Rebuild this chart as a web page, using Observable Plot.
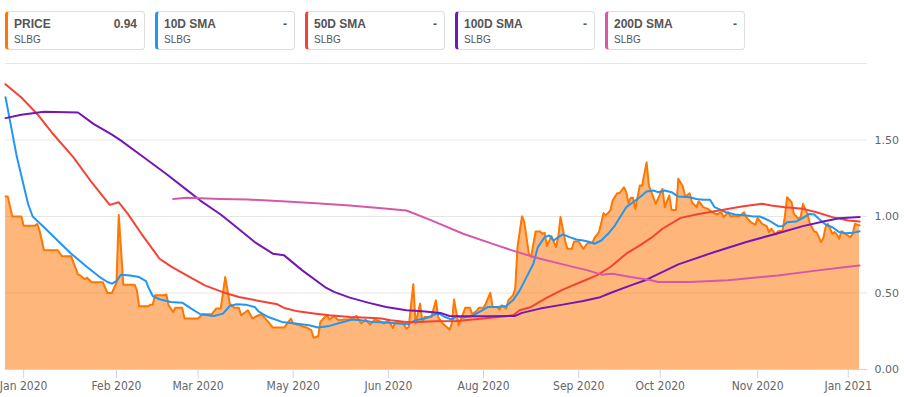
<!DOCTYPE html>
<html>
<head>
<meta charset="utf-8">
<script src="https://cdn.jsdelivr.net/npm/d3@7"></script>
<script src="https://cdn.jsdelivr.net/npm/@observablehq/plot@0.6"></script>
<style>
  body { margin: 0; background: #fff; font-family: "Liberation Sans", Arial, sans-serif; }
  #legend { position: relative; width: 904px; height: 56px; }
  .item { position: absolute; top: 11px; width: 140px; height: 39px; box-sizing: border-box;
          border: 1px solid #dedede; border-left: 3px solid; border-radius: 4px; background: #fff; }
  .item .name { position: absolute; left: 6px; top: 5px; font-size: 12px; font-weight: bold; color: #555; line-height: 14px; }
  .item .val { position: absolute; right: 7px; top: 5px; font-size: 12px; font-weight: bold; color: #555; line-height: 14px; }
  .item .sym { position: absolute; left: 6px; top: 22px; font-size: 10px; color: #555; line-height: 12px; }
  #chart svg { display: block; }
</style>
</head>
<body>
<div id="legend"></div>
<div id="chart"></div>
<script>
// Legend
const seriesNames = ["PRICE", "10D SMA", "50D SMA", "100D SMA", "200D SMA"];
const seriesColors = ["#ff7700", "#2196f3", "#f44336", "#7517b3", "#d658aa"];
const seriesLastLabel = ["0.94", "-", "-", "-", "-"];
const symbol = "SLBG";

// Dates are expressed as days since 2020-01-01
const priceDays = [2,3,5,9,10,15,16,17,19,25,27,31,34,35,37,38,40,45,47,49,51,52,54,59,60,61,65,66,67,68,72,73,74,76,77,80,81,87,89,93,95,97,99,101,103,105,106,108,109,111,113,115,117,118,120,125,128,129,131,134,135,137,138,140,141,143,144,145,147,149,151,154,155,157,159,161,163,165,168,169,171,173,174,177,179,180,182,183,185,186,187,190,192,193,195,198,199,200,202,204,205,207,208,210,211,213,214,216,217,219,220,221,223,224,226,227,228,230,231,233,234,236,238,239,240,241,243,245,246,247,249,250,252,253,255,257,259,261,262,264,266,267,269,270,272,273,275,276,277,278,279,280,282,283,285,286,287,289,291,292,293,295,296,298,299,301,302,304,305,307,308,310,312,314,316,318,319,321,322,326,328,329,331,333,334,336,338,339,340,342,343,345,346,347,349,350,352,353,354,356,357,359,360,362,363,364,365,367,368,369,370,371,373,375,376,377,379];
const priceValues = [1.13,1.13,1.00,1.00,0.94,0.94,0.95,0.91,0.78,0.78,0.74,0.74,0.62,0.615,0.59,0.60,0.57,0.57,0.50,0.50,0.57,1.01,0.554,0.554,0.517,0.413,0.413,0.424,0.424,0.485,0.485,0.49,0.42,0.376,0.404,0.404,0.333,0.333,0.361,0.361,0.398,0.398,0.604,0.43,0.404,0.404,0.354,0.376,0.387,0.333,0.35,0.361,0.328,0.311,0.274,0.274,0.333,0.30,0.293,0.278,0.274,0.257,0.207,0.217,0.311,0.343,0.354,0.326,0.35,0.322,0.326,0.328,0.333,0.35,0.30,0.326,0.293,0.326,0.311,0.30,0.322,0.272,0.307,0.311,0.267,0.278,0.557,0.30,0.43,0.311,0.343,0.343,0.452,0.343,0.30,0.261,0.30,0.457,0.289,0.365,0.404,0.404,0.361,0.383,0.404,0.404,0.43,0.50,0.409,0.409,0.391,0.42,0.398,0.452,0.485,0.528,0.80,1.002,0.963,0.757,0.735,0.902,0.902,0.887,0.893,0.807,0.872,0.80,0.865,0.996,0.843,0.789,0.789,0.837,0.837,0.789,0.826,0.826,0.861,0.898,1.022,1.007,1.039,1.104,1.152,1.152,1.191,1.159,1.087,1.122,1.122,1.05,1.202,1.202,1.354,1.20,1.165,1.083,1.148,1.18,1.061,1.137,1.043,1.043,1.246,1.196,1.13,1.152,1.093,1.061,1.10,1.061,1.05,1.028,1.013,1.028,0.996,1.028,1.002,1.002,1.028,0.996,0.963,0.946,0.991,0.952,0.937,0.898,0.92,0.883,0.904,0.909,0.996,1.126,1.093,1.017,0.985,0.996,1.083,1.017,0.957,0.902,0.898,0.833,0.859,0.93,0.952,0.887,0.898,0.883,0.854,0.904,0.883,0.865,0.887,0.952,0.941];

const sma10Days = [2,7,12,14,19,25,31,38,44,47,49,51,53,57,61,64,65,67,70,75,80,84,88,94,98,101,104,108,112,114,118,124,130,136,140,145,151,155,159,164,170,175,180,183,187,189,193,196,199,201,204,208,212,215,219,223,226,229,232,235,237,240,242,244,246,248,251,254,257,260,262,265,268,271,274,276,279,282,285,288,290,293,296,299,304,307,310,313,315,320,324,329,332,335,339,343,345,347,351,354,357,359,361,364,367,370,373,376,379];
const sma10Values = [1.78,1.39,1.08,1.00,0.93,0.843,0.757,0.67,0.60,0.572,0.561,0.578,0.62,0.615,0.604,0.578,0.539,0.48,0.459,0.441,0.437,0.398,0.361,0.35,0.365,0.415,0.426,0.424,0.409,0.376,0.343,0.311,0.30,0.289,0.274,0.285,0.311,0.326,0.322,0.311,0.307,0.30,0.296,0.322,0.333,0.343,0.37,0.343,0.326,0.348,0.339,0.35,0.383,0.409,0.409,0.415,0.452,0.517,0.604,0.691,0.80,0.865,0.876,0.843,0.865,0.883,0.865,0.85,0.843,0.833,0.822,0.843,0.887,0.941,1.013,1.061,1.093,1.126,1.163,1.17,1.159,1.17,1.159,1.13,1.126,1.115,1.109,1.109,1.061,1.028,1.013,1.007,1.0,1.0,0.974,0.937,0.937,0.963,0.967,0.991,1.017,1.013,0.985,0.948,0.93,0.898,0.891,0.893,0.904];

const sma50Days = [2,9,16,23,32,40,48,52,56,62,70,75,82,90,97,99,105,114,122,125,131,139,145,154,162,168,172,179,184,192,201,213,226,229,234,241,248,256,263,269,276,282,287,292,300,308,317,327,336,340,346,354,360,367,374,379];
const sma50Values = [1.865,1.778,1.67,1.539,1.387,1.224,1.076,1.093,1.017,0.887,0.724,0.674,0.615,0.55,0.511,0.50,0.474,0.448,0.426,0.402,0.38,0.365,0.354,0.343,0.339,0.333,0.322,0.311,0.311,0.315,0.317,0.333,0.354,0.387,0.409,0.47,0.522,0.572,0.615,0.67,0.757,0.811,0.86,0.92,0.991,1.017,1.039,1.065,1.083,1.072,1.061,1.05,1.028,0.996,0.974,0.967];

const sma100Days = [2,9,19,34,41,49,53,63,73,82,88,97,104,112,120,125,133,143,147,154,162,170,179,186,194,198,204,215,227,230,238,248,257,264,269,278,285,299,314,329,343,354,363,370,379];
const sma100Values = [1.643,1.665,1.685,1.68,1.604,1.535,1.496,1.387,1.278,1.174,1.104,1.013,0.93,0.833,0.757,0.746,0.648,0.539,0.507,0.47,0.437,0.409,0.387,0.38,0.37,0.35,0.348,0.348,0.35,0.37,0.398,0.424,0.448,0.47,0.50,0.55,0.587,0.687,0.763,0.833,0.891,0.937,0.967,0.989,0.996];

const sma200Days = [76,82,97,109,124,139,154,168,179,190,204,219,228,238,248,259,265,270,278,287,290,304,321,343,358,373,379];
const sma200Values = [1.115,1.122,1.115,1.111,1.10,1.087,1.072,1.054,1.039,0.975,0.887,0.811,0.767,0.724,0.687,0.648,0.62,0.626,0.604,0.583,0.572,0.572,0.583,0.615,0.643,0.67,0.68];

const xDomainDays = [2, 382.5];
const xTickDays = [10, 51, 87, 129, 171, 213, 255, 291, 334, 374];
const yTicks = [0, 0.5, 1, 1.5];
const yGrid = [0.5, 1, 1.5, 2];

const base = Date.UTC(2020, 0, 1);
const toDate = d => new Date(base + d * 864e5);
const table = (days, values) => days.map((d, i) => ({date: toDate(d), value: values[i]}));

const price = table(priceDays, priceValues);
const sma10 = table(sma10Days, sma10Values);
const sma50 = table(sma50Days, sma50Values);
const sma100 = table(sma100Days, sma100Values);
const sma200 = table(sma200Days, sma200Values);

// Legend boxes
const legend = document.getElementById("legend");
seriesNames.forEach((name, i) => {
  const div = document.createElement("div");
  div.className = "item";
  div.style.left = (5 + i * 150) + "px";
  div.style.borderLeftColor = seriesColors[i];
  div.innerHTML = `<span class="name">${name}</span><span class="val">${seriesLastLabel[i]}</span><span class="sym">${symbol}</span>`;
  legend.appendChild(div);
});

const lineOpts = (color) => ({x: "date", y: "value", stroke: color, strokeWidth: 2});

const chart = Plot.plot({
  width: 904,
  height: 341,
  marginLeft: 5,
  marginRight: 37,
  marginTop: 7,
  marginBottom: 28,
  style: {background: "transparent", overflow: "visible", fontFamily: "'Liberation Sans Narrow', 'DejaVu Sans Condensed', sans-serif"},
  x: {type: "utc", domain: xDomainDays.map(toDate)},
  y: {domain: [0, 2]},
  marks: [
    Plot.gridY(yGrid, {stroke: "#e6e6e6", strokeOpacity: 1}),
    Plot.areaY(price, {x: "date", y: "value", fill: "#ff7300", fillOpacity: 0.52}),
    Plot.line(price, lineOpts(seriesColors[0])),
    Plot.line(sma10, lineOpts(seriesColors[1])),
    Plot.line(sma50, lineOpts(seriesColors[2])),
    Plot.line(sma100, lineOpts(seriesColors[3])),
    Plot.line(sma200, lineOpts(seriesColors[4])),
    Plot.ruleY([0], {stroke: "#ccd6eb"}),
    Plot.axisX({ticks: xTickDays.map(toDate), tickFormat: d3.utcFormat("%b %Y"), tickSize: 9, tickPadding: 3,
                stroke: "#ccd6eb", fill: "#666", fontSize: 12, label: null,
                fontFamily: "'Liberation Sans Narrow', 'DejaVu Sans Condensed', sans-serif"}),
    Plot.axisY({anchor: "right", ticks: yTicks, tickFormat: d3.format(".2f"), tickSize: 0, tickPadding: 7,
                fill: "#666", fontSize: 11, label: null, fontFamily: "'DejaVu Sans', sans-serif"})
  ]
});
document.getElementById("chart").appendChild(chart);
</script>
</body>
</html>
